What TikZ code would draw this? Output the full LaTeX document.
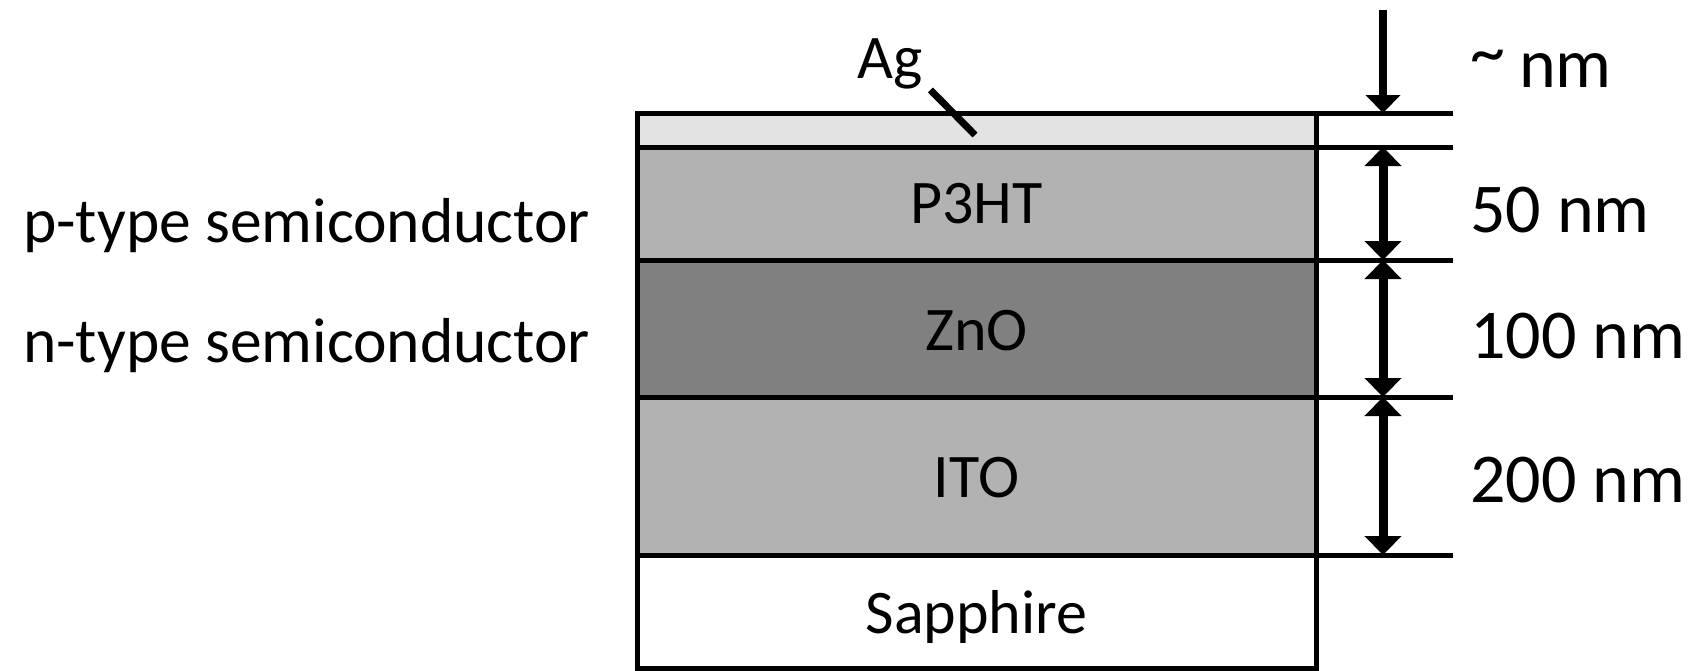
\documentclass[tikz,border=0pt]{standalone}
\usepackage{fontspec}
\setmainfont{Carlito}
\usetikzlibrary{arrows.meta}
\definecolor{agfill}{HTML}{E3E3E3}
\definecolor{p3htfill}{HTML}{B2B2B2}
\definecolor{znofill}{HTML}{808080}
\definecolor{itofill}{HTML}{B2B2B2}
\begin{document}
\begin{tikzpicture}[x=1pt,y=-1pt,
  layerbox/.style={draw=black, line width=5pt, inner sep=0pt, outer sep=0pt, minimum width=679pt},
  sidetext/.style={font=\fontsize{63.5}{76}\selectfont, inner sep=0pt, anchor=base west},
  dimtext/.style={font=\fontsize{70}{84}\selectfont, inner sep=0pt, anchor=base west},
  layertext/.style={font=\fontsize{62}{74}\selectfont, inner sep=0pt, anchor=base},
  extline/.style={line width=5pt},
  dimarrow/.style={line width=9pt, {Triangle[width=36pt,length=19pt]}-{Triangle[width=36pt,length=19pt]}},
  droparrow/.style={line width=8pt, -{Triangle[width=34pt,length=18pt]}},
  pointer/.style={line width=7pt}]
\useasboundingbox (0,0) rectangle (1692,670);

% layer stack, top to bottom
\node[layerbox, fill=agfill,   minimum height=34pt]  (ag)   at (976.5,130)   {};
\node[layerbox, fill=p3htfill, minimum height=113pt] (p3ht) at (976.5,203.5) {};
\node[layerbox, fill=znofill,  minimum height=137pt] (zno)  at (976.5,328.5) {};
\node[layerbox, fill=itofill,  minimum height=158pt] (ito)  at (976.5,476)   {};
\node[layerbox, fill=white,    minimum height=113pt] (sap)  at (976.5,611.5) {};

% layer names
\node[layertext] (tp3ht) at (976.5,223) {P3HT};
\node[layertext] (tzno)  at (976.5,350) {ZnO};
\node[layertext] (tito)  at (976.5,497) {ITO};
\node[layertext] (tsap)  at (976.5,633) {Sapphire};

% Ag label and its pointer
\node[layertext, anchor=base west] (tag) at (857,78) {Ag};
\coordinate (agin) at (975,135);
\draw[pointer] (tag.base east) ++(8,12) coordinate (agout) -- (agin);

% boundary lines carried out to the dimension column
\coordinate (e0) at (1453,113);
\coordinate (e1) at (1453,147);
\coordinate (e2) at (1453,260);
\coordinate (e3) at (1453,397);
\coordinate (e4) at (1453,555);
\draw[extline] (ag.north east)   -- (e0);
\draw[extline] (ag.south east)   -- (e1);
\draw[extline] (p3ht.south east) -- (e2);
\draw[extline] (zno.south east)  -- (e3);
\draw[extline] (ito.south east)  -- (e4);

% thickness arrows
\coordinate (atop) at (1383,10);
\coordinate (a0) at (1383,113);
\coordinate (a1) at (1383,147);
\coordinate (a2) at (1383,260);
\coordinate (a3) at (1383,397);
\coordinate (a4) at (1383,555);
\draw[droparrow] (atop) -- (a0);
\draw[dimarrow] (a1) -- (a2);
\draw[dimarrow] (a2) -- (a3);
\draw[dimarrow] (a3) -- (a4);

% thickness values
\node[dimtext] (dag)   at (1470,87)  {\raisebox{12pt}{\textasciitilde}\hspace{0.2em}nm};
\node[dimtext] (dp3ht) at (1470,232) {50 nm};
\node[dimtext] (dzno)  at (1470,358) {100 nm};
\node[dimtext] (dito)  at (1470,502) {200 nm};

% semiconductor types
\node[sidetext] (ptype) at (23,242) {p-type semiconductor};
\node[sidetext] (ntype) at (23,362) {n-type semiconductor};
\end{tikzpicture}
\end{document}
